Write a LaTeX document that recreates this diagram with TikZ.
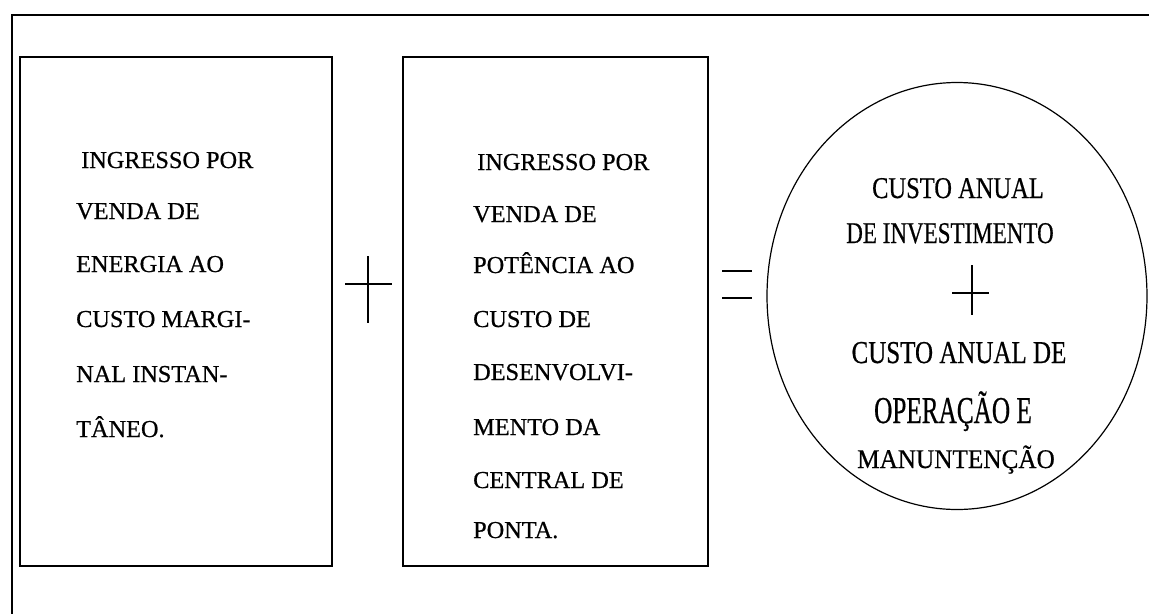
\documentclass[tikz,border=0pt]{standalone}
\usepackage{fontspec}
\usepackage{graphicx}
\setmainfont{Liberation Serif}
\newfontfamily\scanfont{Liberation Serif}[FakeBold=0.6]
\usetikzlibrary{shapes.geometric}
\tikzset{
  boxshape/.style={draw, line width=1.4pt, inner sep=0pt, minimum width=312pt, minimum height=509pt},
  ovalshape/.style={draw, ellipse, line width=1.2pt, inner sep=0pt},
  txt/.style={inner sep=0pt, font=\scanfont\fontsize{24.3}{29}\selectfont, anchor=base west},
  otxt/.style={inner sep=0pt, font=\scanfont\fontsize{24.5}{29}\selectfont, anchor=base},
  sign/.style={line width=1.3pt},
  frame/.style={line width=2.6pt}
}
\begin{document}
\begin{tikzpicture}[x=1pt,y=-1pt]
\useasboundingbox (0,0) rectangle (1149,614);
% outer frame
\draw[frame] (1149,15) -- (12,15) -- (12,614);
% boxes
\node[boxshape] (b1) at (176,311.5) {};
\node[boxshape, minimum width=305pt] (b2) at (555.5,311.5) {};
% ellipse
\node[ovalshape, minimum width=380pt, minimum height=427pt] (el) at (957,296) {};
% box 1 text
\node[txt] (a1) at (81,168) {INGRESSO POR};
\node[txt] (a2) at (76,219) {VENDA DE};
\node[txt] (a3) at (76,272) {ENERGIA AO};
\node[txt] (a4) at (76,327) {CUSTO MARGI-};
\node[txt] (a5) at (76,382) {NAL INSTAN-};
\node[txt] (a6) at (76,437) {TÂNEO.};
% box 2 text
\node[txt] (c1) at (477,170) {INGRESSO POR};
\node[txt] (c2) at (473,222) {VENDA DE};
\node[txt] (c3) at (473,273) {POTÊNCIA AO};
\node[txt] (c4) at (473,327) {CUSTO DE};
\node[txt] (c5) at (473,380) {DESENVOLVI-};
\node[txt] (c6) at (473,435) {MENTO DA};
\node[txt] (c7) at (473,488) {CENTRAL DE};
\node[txt] (c8) at (473,538) {PONTA.};
% ellipse text
\node[otxt] (e1) at (958,198) {\scalebox{1.0}[1.23]{CUSTO ANUAL}};
\node[otxt] (e2) at (950,243) {\scalebox{0.94}[1.23]{DE INVESTIMENTO}};
\node[otxt] (e3) at (959,363) {\scalebox{1.02}[1.3]{CUSTO ANUAL DE}};
\node[otxt] (e4) at (953,423) {\scalebox{1.03}[1.55]{OPERAÇÃO E}};
\node[otxt] (e5) at (956,468) {\scalebox{1.03}[1.1]{MANUNTENÇÃO}};
% plus between boxes
\draw[sign] (345,284) -- (392,284);
\draw[sign] (368,256) -- (368,323);
% equals
\draw[sign] (722,271) -- (752,271);
\draw[sign] (722,298) -- (752,298);
% plus inside ellipse
\draw[sign] (952,293) -- (989,293);
\draw[sign] (972,265) -- (972,315);
\end{tikzpicture}
\end{document}
